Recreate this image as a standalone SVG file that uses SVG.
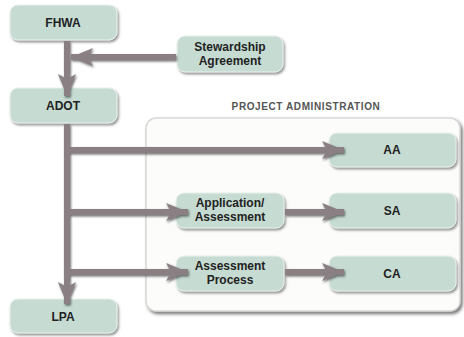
<svg xmlns="http://www.w3.org/2000/svg" width="464" height="337" viewBox="0 0 464 337">
<defs>
<filter id="sh" x="-10%" y="-10%" width="130%" height="140%">
<feDropShadow dx="1.5" dy="2" stdDeviation="1.2" flood-color="#555" flood-opacity="0.6"/>
</filter>
<filter id="csh" x="-5%" y="-5%" width="115%" height="115%">
<feDropShadow dx="2" dy="2.5" stdDeviation="1.5" flood-color="#444" flood-opacity="0.7"/>
</filter>
<filter id="ash" x="-10%" y="-30%" width="130%" height="180%">
<feDropShadow dx="1" dy="1.5" stdDeviation="0.8" flood-color="#333" flood-opacity="0.7"/>
</filter>
<marker id="ah" viewBox="0 0 22 18" refX="22" refY="9" markerWidth="22" markerHeight="18" markerUnits="userSpaceOnUse" orient="auto">
<path d="M0,0 L22,9 L0,18 L5,9 Z" fill="#8a8084"/>
</marker>
</defs>
<style>
.box{fill:#c6dcd3;stroke:#e8f0ec;stroke-width:1;filter:url(#sh)}
.t{font-family:"Liberation Sans",Arial,sans-serif;font-weight:bold;font-size:12px;fill:#222;text-anchor:middle}
.ln{stroke:#8a8084;stroke-width:6;fill:none}
</style>
<rect width="464" height="337" fill="#fff"/>
<g id="project-administration">
<rect x="146" y="118" width="314" height="193" rx="10" fill="#fcfcfb" stroke="#d8d8d6" stroke-width="1.5" filter="url(#csh)"/>
<text x="306" y="110" style="font-family:'Liberation Sans',Arial,sans-serif;font-weight:bold;font-size:10px;letter-spacing:0.6px;fill:#555;text-anchor:middle">PROJECT ADMINISTRATION</text>
</g>
<g id="fhwa"><rect class="box" x="10" y="5" width="107" height="35" rx="8"/><text class="t" x="63" y="27">FHWA</text></g>
<g id="stewardship"><rect class="box" x="177" y="36" width="106" height="36" rx="8"/><text class="t" x="230" y="51">Stewardship</text><text class="t" x="230" y="65">Agreement</text></g>
<g id="adot"><rect class="box" x="10" y="88" width="107" height="35" rx="8"/><text class="t" x="63" y="110">ADOT</text></g>
<g id="aa"><rect class="box" x="329" y="133" width="127" height="34" rx="8"/><text class="t" x="392" y="154">AA</text></g>
<g id="application"><rect class="box" x="176" y="193" width="108" height="35" rx="8"/><text class="t" x="230" y="207">Application/</text><text class="t" x="230" y="221">Assessment</text></g>
<g id="sa"><rect class="box" x="329" y="193" width="127" height="35" rx="8"/><text class="t" x="392" y="215">SA</text></g>
<g id="assessment-process"><rect class="box" x="176" y="256" width="108" height="35" rx="8"/><text class="t" x="230" y="270">Assessment</text><text class="t" x="230" y="284">Process</text></g>
<g id="ca"><rect class="box" x="329" y="256" width="127" height="35" rx="8"/><text class="t" x="392" y="278">CA</text></g>
<g id="lpa"><rect class="box" x="10" y="299" width="107" height="34" rx="8"/><text class="t" x="63" y="321">LPA</text></g>
<g id="connectors" filter="url(#ash)">
<path class="ln" d="M67,41 V96" marker-end="url(#ah)"/>
<path class="ln" d="M176,57 H71" marker-end="url(#ah)"/>
<path class="ln" d="M67,124 V304" marker-end="url(#ah)"/>
<path class="ln" d="M70,150 H344" marker-end="url(#ah)"/>
<path class="ln" d="M70,212 H188" marker-end="url(#ah)"/>
<path class="ln" d="M285,212 H344" marker-end="url(#ah)"/>
<path class="ln" d="M70,272 H188" marker-end="url(#ah)"/>
<path class="ln" d="M285,272 H344" marker-end="url(#ah)"/>
</g>
</svg>
